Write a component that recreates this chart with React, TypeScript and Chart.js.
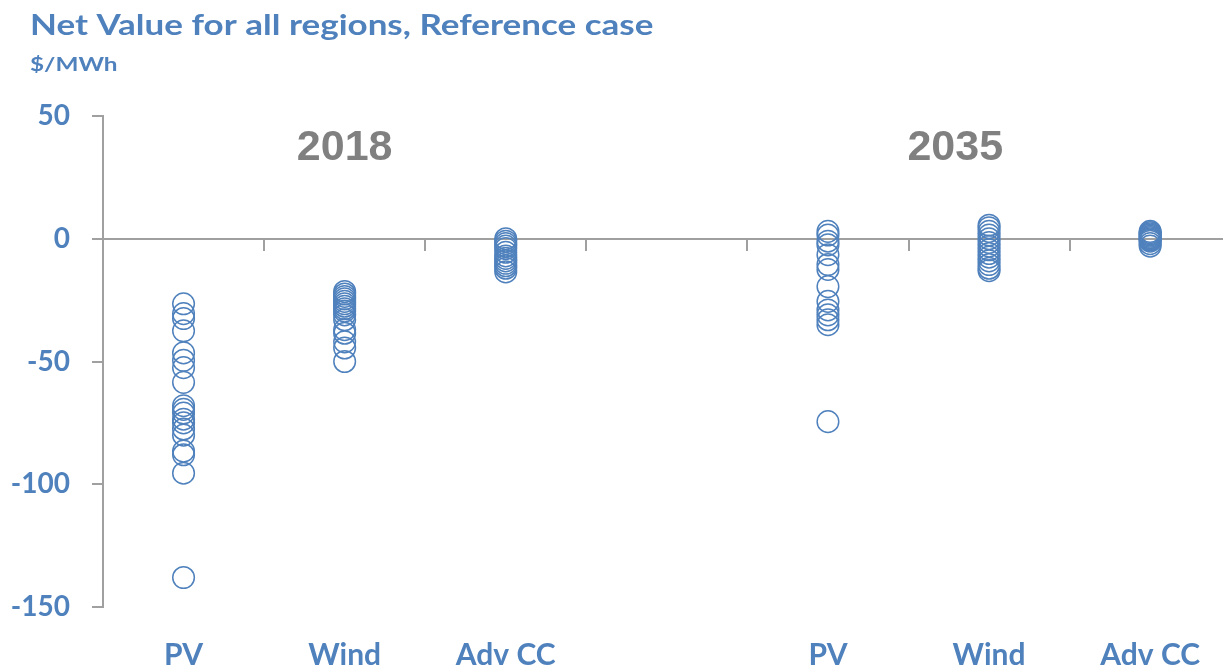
import React, { useEffect, useRef } from 'react';
import { Chart, registerables } from 'chart.js';

Chart.register(...registerables);

// ---- data ----
const CATEGORY_LABELS = ['PV', 'Wind', 'Adv CC', 'PV', 'Wind', 'Adv CC'];
const CATEGORY_X = [0.5, 1.5, 2.5, 4.5, 5.5, 6.5];

const PV_2018 = [-26.5, -30.5, -32.5, -37.5, -46.5, -49.5, -52.5, -58.5, -68, -69.5, -71, -73.5, -75, -77.5, -80, -86.5, -88, -95.5, -138];
const WIND_2018 = [-21.5, -22.5, -23.5, -24.5, -25.5, -26.5, -27.5, -28.5, -29.5, -31, -33, -37, -38.5, -42, -44.5, -50];
const ADVCC_2018 = [0, -1, -2, -3, -4, -5.5, -7, -8, -9, -10, -11, -12, -13.5];
const PV_2035 = [3, 1.5, -1, -2.5, -6.5, -10.5, -12.5, -19.5, -25.5, -29, -31, -33, -35, -74.5];
const WIND_2035 = [5.5, 4.5, 3, 1.5, 0, -1.5, -3, -4.5, -6, -7.5, -9, -10.5, -12, -13];
const ADVCC_2035 = [3, 2.5, 2, 1.5, 1, 0.5, 0, -0.5, -1, -2, -3];

const COLUMNS = [PV_2018, WIND_2018, ADVCC_2018, PV_2035, WIND_2035, ADVCC_2035];

const Y_TICKS = [50, 0, -50, -100, -150];
const YEAR_LABELS = ['2018', '2035'];
const YEAR_X = [1.5, 5.29];
const YEAR_Y = 32;

const TITLE = 'Net Value for all regions, Reference case';
const SUBTITLE = '$/MWh';

// ---- styles ----
const BLUE = '#4F81BD';
const GRAY = '#A0A0A0';
const YEAR_GRAY = '#808080';
const FONT = 'Lato, "Open Sans", sans-serif';

const textPlugin = {
  id: 'textPlugin',
  afterDraw(chart: any) {
    const ctx = chart.ctx;
    const xs = chart.scales.x;
    const ys = chart.scales.y;
    ctx.save();
    ctx.fillStyle = BLUE;
    ctx.textAlign = 'left';
    ctx.textBaseline = 'alphabetic';

    ctx.save();
    ctx.font = `bold 28px ${FONT}`;
    ctx.translate(30, 35);
    ctx.scale(1.25, 1);
    ctx.fillText(TITLE, 0, 0);
    ctx.restore();

    ctx.save();
    ctx.font = `bold 19px ${FONT}`;
    ctx.translate(30, 71);
    ctx.scale(1.28, 1);
    ctx.fillText(SUBTITLE, 0, 0);
    ctx.restore();

    ctx.fillStyle = YEAR_GRAY;
    ctx.textAlign = 'center';
    ctx.font = `bold 43px "Liberation Sans", Arial, sans-serif`;
    YEAR_LABELS.forEach((t, i) => {
      ctx.fillText(t, xs.getPixelForValue(YEAR_X[i]), ys.getPixelForValue(YEAR_Y));
    });
    ctx.restore();
  },
};

export default function App() {
  const ref = useRef<HTMLCanvasElement>(null);

  useEffect(() => {
    if (!ref.current) return;
    const data = COLUMNS.flatMap((col, i) => col.map((v) => ({ x: CATEGORY_X[i], y: v })));
    const chart = new Chart(ref.current, {
      type: 'scatter',
      data: {
        datasets: [
          {
            data,
            pointStyle: 'circle',
            pointRadius: 10.8,
            pointHoverRadius: 10.8,
            borderWidth: 1.5,
            pointBorderWidth: 1.5,
            borderColor: BLUE,
            pointBorderColor: BLUE,
            backgroundColor: 'rgba(0,0,0,0)',
            pointBackgroundColor: 'rgba(0,0,0,0)',
          } as any,
        ],
      },
      options: {
        responsive: false,
        animation: false,
        devicePixelRatio: 1,
        layout: { padding: { top: 116, right: 10, left: 0, bottom: 0 } },
        plugins: {
          legend: { display: false },
          tooltip: { enabled: false },
          title: { display: false },
        },
        scales: {
          x: {
            type: 'linear',
            min: 0,
            max: 7,
            position: { y: 0 } as any,
            afterFit: (s: any) => {
              s.height = 0;
            },
            ticks: { display: false, stepSize: 1 },
            grid: { drawOnChartArea: false, drawTicks: true, tickLength: 11, color: GRAY, lineWidth: 2 },
            border: { color: GRAY, width: 2 },
          },
          xl: {
            type: 'linear',
            min: 0,
            max: 7,
            position: 'bottom',
            afterBuildTicks: (s: any) => {
              s.ticks = CATEGORY_X.map((v) => ({ value: v }));
            },
            afterFit: (s: any) => {
              s.height = 59;
            },
            ticks: {
              autoSkip: false,
              maxRotation: 0,
              padding: 30,
              color: BLUE,
              font: { family: FONT, weight: 'bold', size: 30 },
              callback: (v: any) => {
                const i = CATEGORY_X.indexOf(Number(v));
                return i >= 0 ? CATEGORY_LABELS[i] : '';
              },
            },
            grid: { display: false, drawTicks: false, tickLength: 0 },
            border: { display: false },
          },
          y: {
            type: 'linear',
            min: -150,
            max: 50,
            position: 'left',
            afterBuildTicks: (s: any) => {
              s.ticks = Y_TICKS.map((v) => ({ value: v }));
            },
            afterFit: (s: any) => {
              s.width = 103;
            },
            ticks: {
              padding: 22,
              color: BLUE,
              font: { family: FONT, weight: 'bold', size: 28 },
            },
            grid: { drawOnChartArea: false, tickLength: 11, color: GRAY, lineWidth: 2 },
            border: { color: GRAY, width: 2 },
          },
        } as any,
      },
      plugins: [textPlugin],
    });
    return () => chart.destroy();
  }, []);

  return (
    <div
      style={{
        position: 'fixed',
        left: 0,
        top: 0,
        width: 1223,
        height: 666,
        overflow: 'hidden',
        background: '#fff',
      }}
    >
      <canvas ref={ref} width={1243} height={666} style={{ display: 'block' }} />
    </div>
  );
}
